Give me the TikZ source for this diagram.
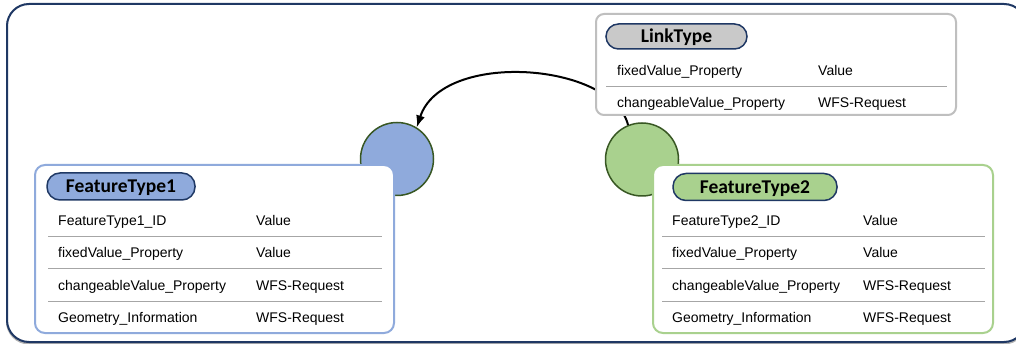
\documentclass[tikz,border=0pt]{standalone}
\usepackage{fontspec}
\setmainfont{Liberation Sans}
\newfontfamily\titlefont{Carlito}
\usetikzlibrary{arrows.meta}
\definecolor{navy}{HTML}{1F3864}
\definecolor{bluefill}{HTML}{8FAADC}
\definecolor{greenfill}{HTML}{A9D18E}
\definecolor{circedge}{HTML}{385723}
\definecolor{graybd}{HTML}{BFBFBF}
\definecolor{pillgray}{HTML}{C9C9C9}
\definecolor{sepgray}{HTML}{A6A6A6}
\begin{document}
\begin{tikzpicture}[x=1pt,y=-1pt,
  frame/.style={draw=navy, line width=2pt, rounded corners=22pt},
  shadowline/.style={draw=black!30, line width=2pt, rounded corners=22pt},
  dot/.style={circle, draw=circedge, line width=1.5pt, minimum size=73pt, inner sep=0pt},
  card/.style={fill=white, line width=2pt, rounded corners=10pt, inner sep=0pt},
  pill/.style={draw=navy, line width=1.5pt, rounded corners=13pt, inner sep=0pt,
    text height=12.5pt, text depth=0pt, font=\titlefont\bfseries\fontsize{19.5}{20}\selectfont},
  cell/.style={anchor=base west, inner sep=0pt, font=\fontsize{14}{16}\selectfont},
  sep/.style={draw=sepgray, line width=1pt},
  link/.style={draw=black, line width=2pt, -{Latex[length=12pt,width=9pt]}}]
\useasboundingbox (0,0) rectangle (1016,344);
% outer frame
\draw[shadowline] (7,5.5) rectangle (1026,343.5);
\draw[frame, fill=white] (7,4) rectangle (1026,342);
% circles
\node[dot, fill=bluefill] (c1) at (397,159) {};
\node[dot, fill=greenfill] (c2) at (642,159.5) {};
% arrow
\draw[link] (c2.112) .. controls (612,62) and (442,50) .. (c1.58);
% LinkType card
\node[card, draw=graybd, rounded corners=8pt, minimum width=360pt, minimum height=101pt] (lt) at (776,64.5) {};
\node[pill, fill=pillgray, minimum width=141pt, minimum height=25pt, rounded corners=12.5pt] (ltt) at (676.5,36.5) {LinkType};
\node[cell] (lt1a) at (617,75.5) {fixedValue\_Property};
\node[cell] (lt1b) at (818,75.5) {Value};
\draw[sep] (606,86.5) -- (947,86.5);
\node[cell] (lt2a) at (617,107.5) {changeableValue\_Property};
\node[cell] (lt2b) at (818,107.5) {WFS-Request};
% FeatureType1 card
\node[card, draw=bluefill, minimum width=359pt, minimum height=168pt] (f1) at (214.5,249) {};
\node[pill, fill=bluefill, minimum width=148pt, minimum height=27pt] (f1t) at (121,186.5) {FeatureType1};
\node[cell] (f1r1a) at (58,226) {FeatureType1\_ID};
\node[cell] (f1r1b) at (256,226) {Value};
\draw[sep] (48,237) -- (382,237);
\node[cell] (f1r2a) at (58,258) {fixedValue\_Property};
\node[cell] (f1r2b) at (256,258) {Value};
\draw[sep] (48,269) -- (382,269);
\node[cell] (f1r3a) at (58,290.5) {changeableValue\_Property};
\node[cell] (f1r3b) at (256,290.5) {WFS-Request};
\draw[sep] (48,301) -- (382,301);
\node[cell] (f1r4a) at (58,322.5) {Geometry\_Information};
\node[cell] (f1r4b) at (256,322.5) {WFS-Request};
% FeatureType2 card
\node[card, draw=greenfill, minimum width=340pt, minimum height=168pt] (f2) at (823,249) {};
\node[pill, fill=greenfill, minimum width=164pt, minimum height=27pt] (f2t) at (755,187) {FeatureType2};
\node[cell] (f2r1a) at (672,226) {FeatureType2\_ID};
\node[cell] (f2r1b) at (863,226) {Value};
\draw[sep] (662,237) -- (985,237);
\node[cell] (f2r2a) at (672,258) {fixedValue\_Property};
\node[cell] (f2r2b) at (863,258) {Value};
\draw[sep] (662,269) -- (985,269);
\node[cell] (f2r3a) at (672,290.5) {changeableValue\_Property};
\node[cell] (f2r3b) at (863,290.5) {WFS-Request};
\draw[sep] (662,301) -- (985,301);
\node[cell] (f2r4a) at (672,322.5) {Geometry\_Information};
\node[cell] (f2r4b) at (863,322.5) {WFS-Request};
\end{tikzpicture}
\end{document}
